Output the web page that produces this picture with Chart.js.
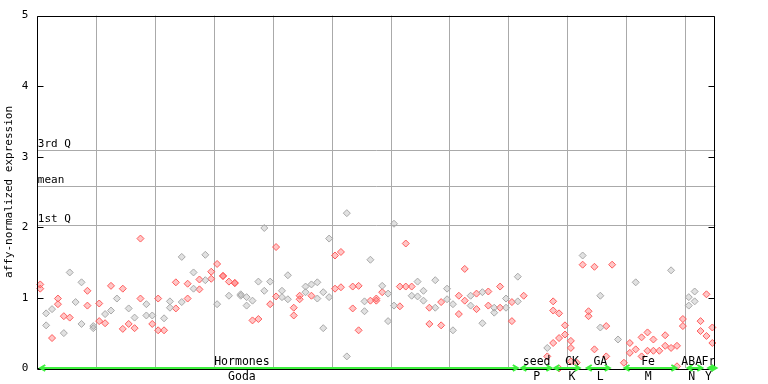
<!DOCTYPE html>
<html>
<head>
<meta charset="utf-8">
<script src="https://cdn.jsdelivr.net/npm/chart.js@4"></script>
<style>
  html, body { margin: 0; padding: 0; background: #ffffff; }
  #wrap { width: 768px; height: 384px; }
</style>
</head>
<body>
<div id="wrap"><canvas id="exprChart" width="768" height="384"></canvas></div>
<script>
// sample index (x) and expression value (y), split by marker colour
const grayX = [1,1,2,4,5,6,7,7,9,9,11,12,13,15,16,18,18,19,21,22,22,24,24,26,26,28,28,30,32,34,34,35,35,36,37,38,38,39,41,41,42,42,45,45,46,47,47,48,48,49,49,52,52,55,55,56,58,59,59,60,60,63,64,64,65,65,67,67,69,69,70,70,73,73,75,75,77,77,79,79,81,81,86,92,95,95,98,101,107,110,110,111,111];
const grayY = [0.78,0.61,0.84,0.50,1.36,0.94,1.22,0.63,0.60,0.57,0.77,0.82,0.99,0.85,0.72,0.91,0.75,0.75,0.71,0.95,0.86,1.58,0.94,1.36,1.13,1.61,1.25,0.91,1.03,1.03,1.05,1.01,0.89,0.96,1.23,1.99,1.10,1.23,1.10,1.01,1.32,0.98,1.16,1.08,1.19,1.22,0.99,1.08,0.57,1.84,1.01,2.20,0.17,0.95,0.81,1.54,1.17,1.06,0.67,2.05,0.89,1.03,1.23,1.02,1.10,0.96,1.25,0.86,1.13,0.98,0.91,0.54,1.03,0.89,1.08,0.64,0.86,0.79,0.99,0.86,1.30,0.95,0.29,1.60,1.03,0.58,0.41,1.22,1.39,1.01,0.89,1.09,0.95];

const redX = [0,0,2,3,3,4,5,8,8,10,10,11,12,14,14,15,16,17,17,19,20,20,21,23,23,25,25,27,27,29,29,30,31,31,32,33,33,36,37,39,40,40,43,43,44,44,46,50,50,51,51,53,53,54,54,56,57,57,58,61,61,62,62,63,66,66,68,68,71,71,72,72,74,74,76,76,78,78,80,80,82,86,87,87,87,88,88,88,89,89,90,90,90,91,92,93,93,94,94,96,96,97,99,100,100,101,102,102,103,103,104,104,105,106,106,107,108,108,109,109,112,112,113,113,114,114];
const redY = [1.19,1.13,0.43,0.99,0.91,0.74,0.72,1.10,0.89,0.92,0.67,0.64,1.17,1.13,0.56,0.63,0.57,1.84,0.99,0.63,0.99,0.54,0.54,1.22,0.85,1.20,0.99,1.26,1.12,1.37,1.27,1.48,1.31,1.31,1.23,1.21,1.21,0.68,0.70,0.91,1.72,1.02,0.86,0.75,1.03,0.98,1.03,1.60,1.13,1.65,1.15,1.16,0.85,1.17,0.54,0.96,0.99,0.96,1.08,1.16,0.88,1.77,1.16,1.16,0.86,0.63,0.94,0.61,1.03,0.77,1.41,0.96,1.06,0.84,1.09,0.89,1.16,0.86,0.94,0.67,1.03,0.17,0.95,0.82,0.36,0.78,0.43,0.00,0.61,0.48,0.39,0.29,0.10,0.08,1.47,0.81,0.74,1.44,0.27,0.60,0.17,1.47,0.08,0.36,0.22,0.27,0.44,0.17,0.51,0.25,0.41,0.25,0.25,0.47,0.32,0.29,0.32,0.03,0.70,0.60,0.67,0.53,1.05,0.46,0.58,0.36];

const sampleCount = 115;
const yTicks = [0, 1, 2, 3, 4, 5];

// summary lines
const refNames = ['3rd Q', 'mean', '1st Q'];
const refValues = [3.10, 2.58, 2.03];

// experiment groups along the bottom (in sample index units)
const groupNames = ['Hormones', 'seed', 'CK', 'GA', 'Fe', 'ABA', 'Fr'];
const groupCodes = ['Goda', 'P', 'K', 'L', 'M', 'N', 'Y'];
const groupStart = [0, 81.6, 87.2, 92.7, 99.1, 109.8, 113.3];
const groupEnd = [81, 86.7, 91.5, 96.6, 107.9, 112.3, 114.7];
const groupMid = [34.2, 84.2, 90.2, 95.0, 103.1, 110.5, 113.35];

const FONT = 'DejaVu Sans Mono';
const GREEN = '#3df03d';

function toPoints(xs, ys) {
    return xs.map((x, i) => ({ x: x, y: ys[i] }));
}

const framePlugin = {
    id: 'frame',
    beforeDatasetsDraw(chart) {
        const ctx = chart.ctx;
        const a = chart.chartArea;
        const y = chart.scales.y;
        ctx.save();
        ctx.strokeStyle = '#aaaaaa';
        ctx.lineWidth = 1;
        ctx.font = '11px ' + FONT;
        ctx.textAlign = 'left';
        ctx.textBaseline = 'bottom';
        refValues.forEach((v, i) => {
            const py = Math.round(y.getPixelForValue(v)) + 0.5;
            ctx.beginPath();
            ctx.moveTo(a.left, py);
            ctx.lineTo(a.right, py);
            ctx.stroke();
            ctx.fillStyle = '#000000';
            ctx.fillText(refNames[i], a.left + 0.5, py - 1);
        });
        ctx.restore();
    },
    afterDatasetsDraw(chart) {
        const ctx = chart.ctx;
        const a = chart.chartArea;
        const x = chart.scales.x;
        const y = chart.scales.y;
        ctx.save();
        // frame
        ctx.strokeStyle = '#000000';
        ctx.lineWidth = 1;
        const l = Math.round(a.left) + 0.5, r = Math.round(a.right) - 0.5;
        const t = Math.round(a.top) + 0.5, b = Math.round(a.bottom) + 0.5;
        ctx.beginPath();
        ctx.moveTo(l, b + 1); ctx.lineTo(l, t); ctx.lineTo(r, t); ctx.lineTo(r, b + 1);
        ctx.moveTo(l, b + 1); ctx.lineTo(r, b + 1);
        ctx.stroke();
        // tick marks, inside on both sides
        yTicks.forEach(v => {
            const py = Math.round(y.getPixelForValue(v)) + 0.5;
            ctx.beginPath();
            ctx.moveTo(l, py); ctx.lineTo(l + 6, py);
            ctx.moveTo(r, py); ctx.lineTo(r - 6, py);
            ctx.stroke();
        });
        // group bars along the x axis
        const gy = b - 0.5;
        ctx.strokeStyle = GREEN;
        ctx.lineWidth = 2;
        ctx.font = '11.5px ' + FONT;
        ctx.textAlign = 'center';
        ctx.textBaseline = 'middle';
        groupNames.forEach((name, i) => {
            const x0 = x.getPixelForValue(groupStart[i]);
            const x1 = x.getPixelForValue(groupEnd[i]);
            ctx.beginPath();
            ctx.moveTo(x0, gy); ctx.lineTo(x1, gy);
            ctx.moveTo(x0 + 5, gy - 3); ctx.lineTo(x0, gy); ctx.lineTo(x0 + 5, gy + 3);
            ctx.moveTo(x1 - 5, gy - 3); ctx.lineTo(x1, gy); ctx.lineTo(x1 - 5, gy + 3);
            ctx.stroke();
            const mx = x.getPixelForValue(groupMid[i]);
            ctx.fillStyle = '#000000';
            ctx.fillText(name, mx, 362.5);
            ctx.fillText(groupCodes[i], mx, 377.5);
        });
        ctx.restore();
    }
};

new Chart(document.getElementById('exprChart'), {
    type: 'scatter',
    data: {
        datasets: [
            {
                label: 'gray',
                data: toPoints(grayX, grayY),
                pointStyle: 'rectRot',
                pointRadius: 3.5,
                borderWidth: 1,
                pointBorderColor: '#a8a8a8',
                pointBackgroundColor: 'rgba(168, 168, 168, 0.35)',
                clip: false
            },
            {
                label: 'red',
                data: toPoints(redX, redY),
                pointStyle: 'rectRot',
                pointRadius: 3.5,
                borderWidth: 1,
                pointBorderColor: '#ff5c5c',
                pointBackgroundColor: 'rgba(255, 92, 92, 0.35)',
                clip: false
            }
        ]
    },
    options: {
        responsive: false,
        animation: false,
        layout: {
            padding: { left: 0, right: 52.7, top: 13.7, bottom: 0 }
        },
        plugins: {
            legend: { display: false },
            tooltip: { enabled: false }
        },
        scales: {
            x: {
                type: 'linear',
                min: -0.5,
                max: sampleCount - 0.5,
                afterBuildTicks: s => {
                    const ticks = [];
                    for (let v = 9.5; v < sampleCount - 1; v += 10) ticks.push({ value: v });
                    s.ticks = ticks;
                },
                afterFit: s => { s.height = 15.3; },
                grid: { color: '#aaaaaa', lineWidth: 1, drawTicks: false },
                border: { display: false },
                ticks: { display: false }
            },
            y: {
                min: 0,
                max: 5,
                afterBuildTicks: s => { s.ticks = yTicks.map(v => ({ value: v })); },
                afterFit: s => { s.width = 37.3; },
                grid: { display: false, drawTicks: false },
                border: { display: false },
                ticks: {
                    color: '#000000',
                    padding: 9,
                    font: { family: FONT, size: 11 }
                },
                title: {
                    display: true,
                    text: 'affy-normalized expression',
                    color: '#000000',
                    padding: { top: 3, bottom: 0 },
                    font: { family: FONT, size: 11 }
                }
            }
        }
    },
    plugins: [framePlugin]
});
</script>
</body>
</html>
